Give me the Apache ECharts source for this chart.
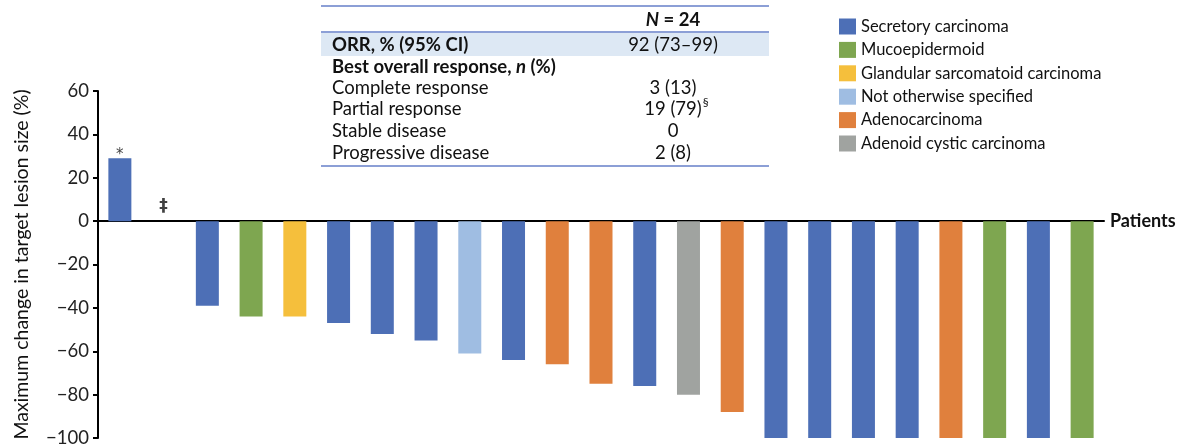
<!DOCTYPE html>
<html>
<head>
<meta charset="utf-8">
<script src="https://cdn.jsdelivr.net/npm/echarts@6/dist/echarts.min.js"></script>
<style>
html,body{margin:0;padding:0;background:#fff;}
#chart{width:1185px;height:448px;}
</style>
</head>
<body>
<div id="chart"></div>
<script>
// ---------------- data ----------------
const patients = ['1','2','3','4','5','6','7','8','9','10','11','12','13','14','15','16','17','18','19','20','21','22','23'];
const changeValues = [29, null, -39, -44, -44, -47, -52, -55, -61, -64, -66, -75, -76, -80, -88, -100, -100, -100, -100, -100, -100, -100, -100];
const histology = ['Secretory carcinoma', null, 'Secretory carcinoma', 'Mucoepidermoid', 'Glandular sarcomatoid carcinoma',
  'Secretory carcinoma', 'Secretory carcinoma', 'Secretory carcinoma', 'Not otherwise specified', 'Secretory carcinoma',
  'Adenocarcinoma', 'Adenocarcinoma', 'Secretory carcinoma', 'Adenoid cystic carcinoma', 'Adenocarcinoma',
  'Secretory carcinoma', 'Secretory carcinoma', 'Secretory carcinoma', 'Secretory carcinoma', 'Adenocarcinoma',
  'Mucoepidermoid', 'Secretory carcinoma', 'Mucoepidermoid'];
const notes = ['*', '‡', '', '', '', '', '', '', '', '', '', '', '', '', '', '', '', '', '', '', '', '', ''];
const histologyTypes = ['Secretory carcinoma', 'Mucoepidermoid', 'Glandular sarcomatoid carcinoma', 'Not otherwise specified', 'Adenocarcinoma', 'Adenoid cystic carcinoma'];
const histologyColors = ['#4d6fb6', '#7ea650', '#f5bf3c', '#9fbde2', '#e0803d', '#a0a3a0'];
const yTicks = [-100, -80, -60, -40, -20, 0, 20, 40, 60];

const tableLabels = ['ORR, % (95% CI)', 'Best overall response, n (%)', 'Complete response', 'Partial response', 'Stable disease', 'Progressive disease'];
const tableValues = ['92 (73–99)', '', '3 (13)', '19 (79)', '0', '2 (8)'];
const tableMarks = ['', '', '', '§', '', ''];

// ---------------- chart ----------------
const FONT = 'Lato';
const chart = echarts.init(document.getElementById('chart'), null, {renderer: 'canvas'});

const series = histologyTypes.map((t, k) => ({
  name: t,
  type: 'bar',
  stack: 'all',
  barWidth: 23,
  itemStyle: {color: histologyColors[k]},
  data: changeValues.map((v, i) => histology[i] === t ? v : null),
  animation: false
}));

series.push({
  name: 'notes',
  type: 'scatter',
  symbolSize: 0,
  silent: true,
  data: notes.map((n, i) => n ? {
    value: [i, Math.max(changeValues[i] || 0, 0)], name: n,
    label: n === '‡' ? {fontSize: 17, fontWeight: 'bold', distance: 6} : {fontSize: 15, distance: -4}
  } : null).filter(d => d),
  label: {
    show: true, position: 'top',
    formatter: p => p.name,
    fontFamily: 'DejaVu Sans', color: '#111'
  },
  animation: false
});

// table graphic
const ctx = document.createElement('canvas').getContext('2d');
const TFS = 18.5;
ctx.font = TFS + 'px ' + FONT;
const tLeft = 321, tRight = 769, labelX = 332, valX = 673;
const rowY = [45, 67, 88, 109.5, 131, 153];
const graphics = [
  {type: 'rect', shape: {x: tLeft, y: 33, width: tRight - tLeft, height: 23}, style: {fill: '#dde8f4'}},
  {type: 'line', shape: {x1: tLeft, y1: 6, x2: tRight, y2: 6}, style: {stroke: '#8c9fd6', lineWidth: 2}},
  {type: 'line', shape: {x1: tLeft, y1: 32, x2: tRight, y2: 32}, style: {stroke: '#8c9fd6', lineWidth: 2}},
  {type: 'line', shape: {x1: tLeft, y1: 166, x2: tRight, y2: 166}, style: {stroke: '#8c9fd6', lineWidth: 2}},
  {type: 'text', x: valX, y: 20, style: {
    text: '{i|N}{b| = 24}', align: 'center', verticalAlign: 'middle',
    rich: {
      i: {fontFamily: FONT, fontSize: TFS, fontWeight: 'bold', fontStyle: 'italic', fill: '#111'},
      b: {fontFamily: FONT, fontSize: TFS, fontWeight: 'bold', fill: '#111'}
    }}}
];
tableLabels.forEach((lab, i) => {
  const bold = i < 2;
  if (i === 1) {
    graphics.push({type: 'text', x: labelX, y: rowY[i], style: {
      text: '{b|Best overall response, }{i|n}{b| (%)}', align: 'left', verticalAlign: 'middle',
      rich: {
        b: {fontFamily: FONT, fontSize: TFS, fontWeight: 'bold', fill: '#111'},
        i: {fontFamily: FONT, fontSize: TFS, fontWeight: 'bold', fontStyle: 'italic', fill: '#111'}
      }}});
  } else {
    graphics.push({type: 'text', x: labelX, y: rowY[i], style: {
      text: lab, align: 'left', verticalAlign: 'middle',
      font: (bold ? 'bold ' : '') + TFS + 'px ' + FONT, fill: '#111'}});
  }
  if (tableValues[i]) {
    graphics.push({type: 'text', x: valX, y: rowY[i], style: {
      text: tableValues[i], align: 'center', verticalAlign: 'middle',
      font: TFS + 'px ' + FONT, fill: '#111'}});
    if (tableMarks[i]) {
      const w = ctx.measureText(tableValues[i]).width;
      graphics.push({type: 'text', x: valX + w / 2 + 1, y: rowY[i] - 7, style: {
        text: tableMarks[i], align: 'left', verticalAlign: 'middle',
        font: '12px ' + FONT, fill: '#111'}});
    }
  }
});

chart.setOption({
  animation: false,
  textStyle: {fontFamily: FONT},
  grid: {left: 98, right: 81, top: 91, bottom: 10, containLabel: false},
  legend: {
    data: histologyTypes,
    orient: 'vertical',
    left: 839, top: 18,
    padding: 0,
    icon: 'rect',
    itemWidth: 17, itemHeight: 16,
    itemGap: 6.4,
    selectedMode: false,
    textStyle: {fontFamily: FONT, fontSize: 16.5, color: '#111', lineHeight: 16}
  },
  xAxis: {
    type: 'category',
    data: patients,
    axisLine: {onZero: true, lineStyle: {color: '#000', width: 2}},
    axisTick: {show: false},
    axisLabel: {show: false},
    splitLine: {show: false},
    name: 'Patients',
    nameLocation: 'end',
    nameGap: 6,
    nameTextStyle: {fontFamily: FONT, fontSize: 18, fontWeight: 'bold', color: '#111'}
  },
  yAxis: {
    type: 'value',
    min: yTicks[0], max: yTicks[yTicks.length - 1], interval: 20,
    axisLine: {show: true, lineStyle: {color: '#000', width: 2}},
    axisTick: {show: true, length: 5, lineStyle: {color: '#000', width: 2}},
    splitLine: {show: false},
    axisLabel: {
      margin: 9, fontSize: 18.5, color: '#222', fontFamily: FONT,
      formatter: v => String(v).replace('-', '−')
    },
    name: 'Maximum change in target lesion size (%)',
    nameLocation: 'middle',
    nameGap: 66,
    nameRotate: 90,
    nameTextStyle: {fontFamily: FONT, fontSize: 19.5, color: '#111'}
  },
  graphic: graphics,
  series: series
});
</script>
</body>
</html>
